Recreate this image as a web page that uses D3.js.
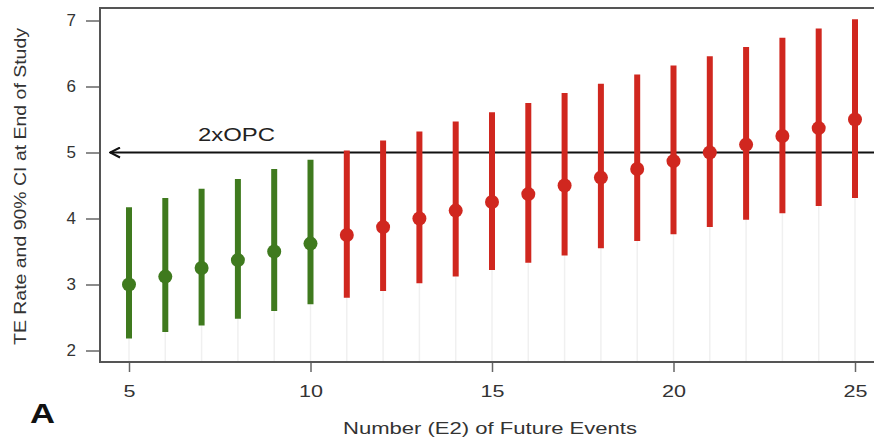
<!DOCTYPE html>
<html><head><meta charset="utf-8">
<script src="https://cdn.jsdelivr.net/npm/d3@7"></script>
<style>body{margin:0;background:#fff}svg{display:block}text{font-family:"Liberation Sans",Arial,sans-serif}</style>
</head><body><svg id="c" width="874" height="443"></svg>
<script>
const events = [5,6,7,8,9,10,11,12,13,14,15,16,17,18,19,20,21,22,23,24,25];
const rate   = [3.0,3.12,3.25,3.37,3.5,3.62,3.75,3.87,4.0,4.12,4.25,4.37,4.5,4.62,4.75,4.87,5.0,5.12,5.25,5.37,5.5];
const lower  = [2.18,2.28,2.38,2.48,2.6,2.7,2.8,2.9,3.02,3.12,3.22,3.33,3.44,3.55,3.66,3.76,3.87,3.98,4.08,4.19,4.31];
const upper  = [4.17,4.31,4.45,4.6,4.75,4.89,5.03,5.18,5.32,5.47,5.61,5.75,5.9,6.04,6.18,6.32,6.46,6.6,6.74,6.88,7.02];
const xTicks = [5,10,15,20,25];
const yTicks = [2,3,4,5,6,7];
const opc = 5;
const opcLabel = "2xOPC";

const svg = d3.select("#c");
const L = 100, T = 8, B = 362, R = 884;
const x = d3.scaleLinear().domain([5,25]).range([129,855]);
const y = d3.scaleLinear().domain([2,7]).range([350.5,20.5]);
const green = "#3f7a1e", red = "#d0271f";

// faint guide lines
svg.append("g").selectAll("line").data(events).join("line")
  .attr("x1", d=>x(d)).attr("x2", d=>x(d))
  .attr("y1", (d,i)=>y(lower[i])).attr("y2", B)
  .attr("stroke", "#f0f0f0").attr("stroke-width", 1.5);

// axes
const ya = svg.append("g").attr("transform", `translate(${L},0)`)
  .call(d3.axisLeft(y).tickValues(yTicks).tickSize(14).tickPadding(10).tickFormat(d3.format("d")));
const xa = svg.append("g").attr("transform", `translate(0,${B})`)
  .call(d3.axisBottom(x).tickValues(xTicks).tickSize(10).tickPadding(13).tickFormat(d3.format("d")));
[ya, xa].forEach(a => {
  a.select(".domain").remove();
  a.selectAll(".tick line").attr("stroke", "#666").attr("stroke-width", 1.5);
  a.selectAll(".tick text").attr("font-size", 17).attr("fill", "#333");
});
xa.selectAll(".tick text").attr("textLength", d => String(d).length * 12).attr("lengthAdjust","spacingAndGlyphs");

// box
svg.append("rect").attr("x", L).attr("y", T).attr("width", R-L).attr("height", B-T)
  .attr("fill", "none").attr("stroke", "#555").attr("stroke-width", 2);

// OPC arrow
svg.append("defs").append("marker").attr("id","ah").attr("viewBox","0 0 12 12")
  .attr("refX", 11).attr("refY", 6).attr("markerWidth", 12).attr("markerHeight", 12)
  .attr("markerUnits","userSpaceOnUse").attr("orient","auto")
  .append("path").attr("d","M1,1 L11,6 L1,11").attr("fill","none").attr("stroke","#111").attr("stroke-width",2);
svg.append("line").attr("x1", 874).attr("x2", 110).attr("y1", y(opc)).attr("y2", y(opc))
  .attr("stroke", "#111").attr("stroke-width", 2.2).attr("marker-end", "url(#ah)");
svg.append("text").attr("x", 198).attr("y", 141)
  .attr("font-size", 18).attr("fill", "#222")
  .attr("textLength", 77).attr("lengthAdjust","spacingAndGlyphs").text(opcLabel);

// CIs and points
const col = (d,i) => upper[i] < opc ? green : red;
svg.append("g").selectAll("line").data(events).join("line")
  .attr("x1", d=>x(d)).attr("x2", d=>x(d))
  .attr("y1", (d,i)=>y(lower[i])).attr("y2", (d,i)=>y(upper[i]))
  .attr("stroke", col).attr("stroke-width", 6);
svg.append("g").selectAll("circle").data(events).join("circle")
  .attr("cx", d=>x(d)).attr("cy", (d,i)=>y(rate[i])).attr("r", 7)
  .attr("fill", col);

// labels
svg.append("text").attr("transform", "translate(26,345) rotate(-90)")
  .attr("font-size", 16).attr("fill", "#333")
  .attr("textLength", 317).attr("lengthAdjust","spacingAndGlyphs")
  .text("TE Rate and 90% CI at End of Study");
svg.append("text").attr("x", 343).attr("y", 434)
  .attr("font-size", 16).attr("fill", "#333")
  .attr("textLength", 294).attr("lengthAdjust","spacingAndGlyphs")
  .text("Number (E2) of Future Events");
svg.append("text").attr("x", 30).attr("y", 423).attr("font-size", 28).attr("font-weight","bold")
  .attr("fill", "#111").attr("textLength", 25).attr("lengthAdjust","spacingAndGlyphs").text("A");
</script></body></html>
